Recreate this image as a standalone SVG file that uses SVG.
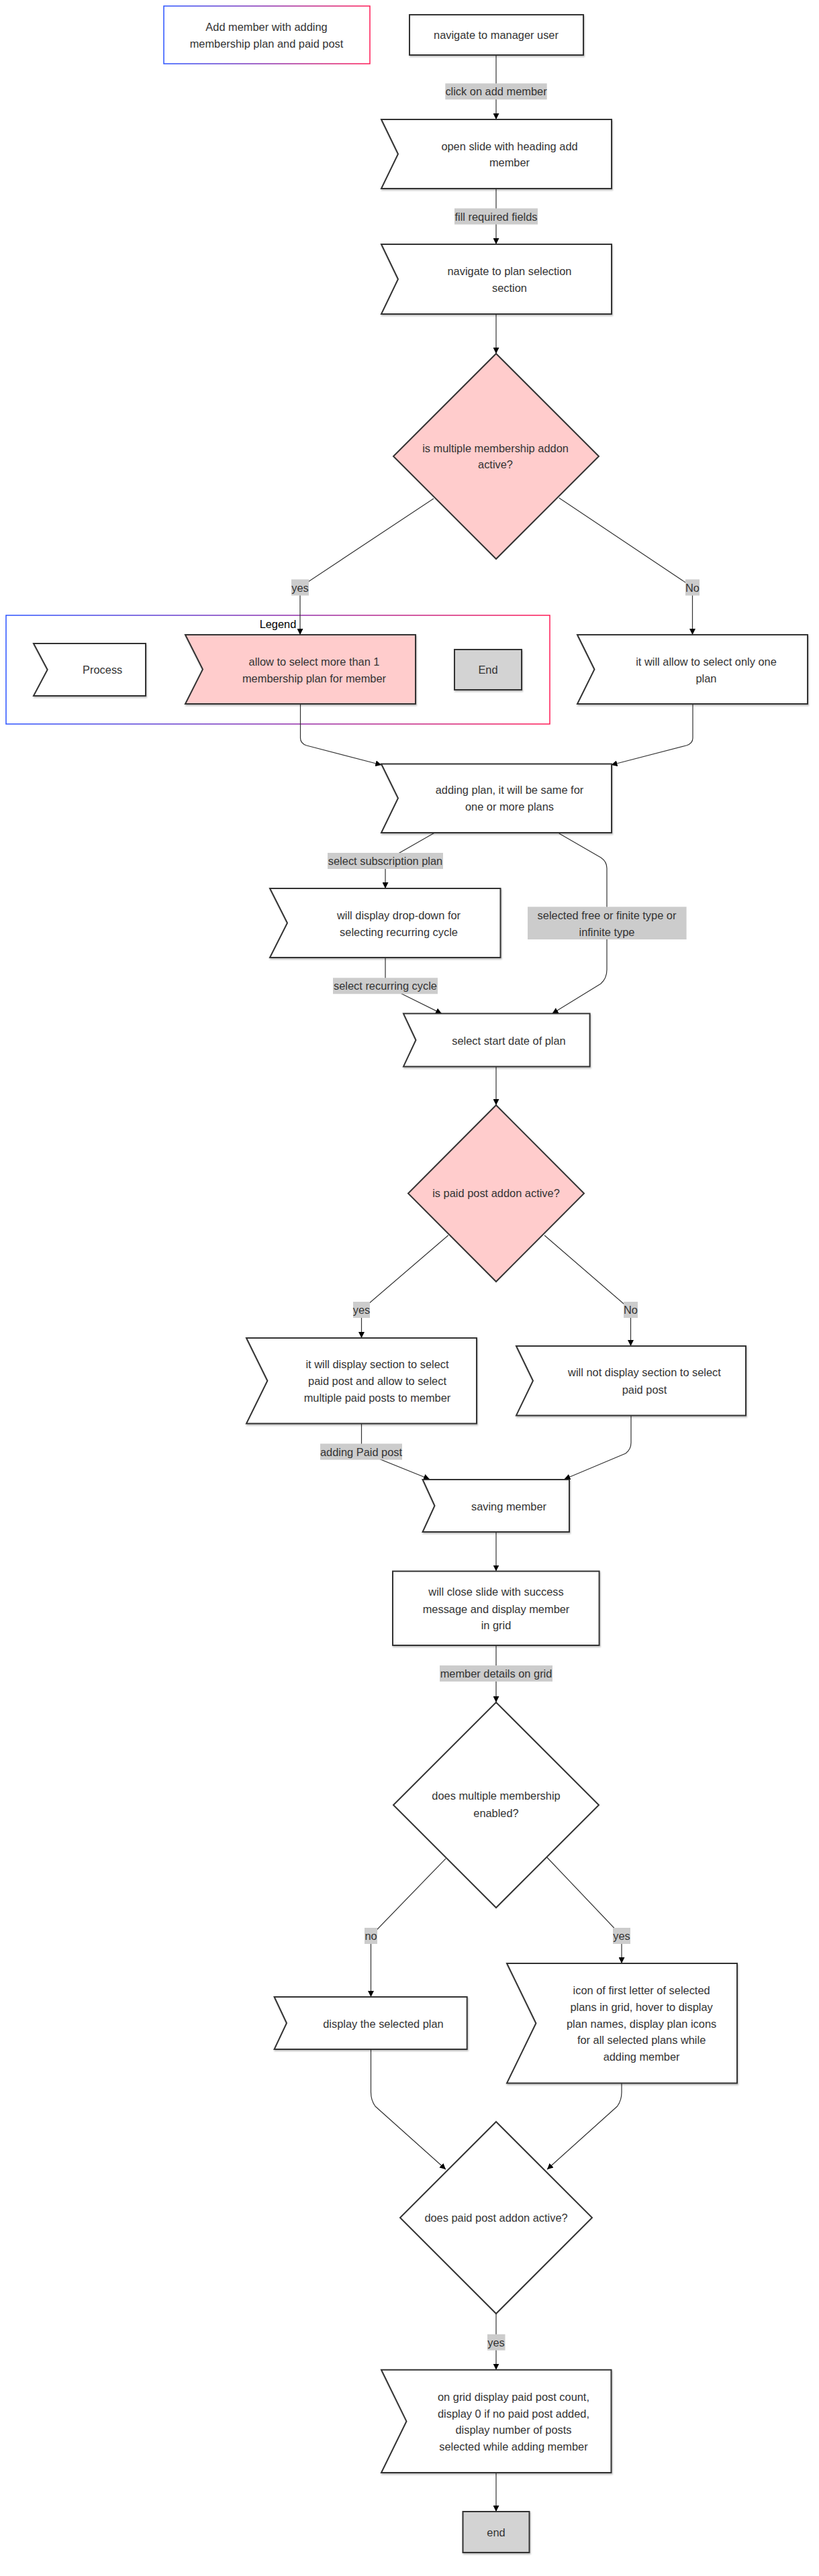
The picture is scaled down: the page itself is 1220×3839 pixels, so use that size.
<svg xmlns="http://www.w3.org/2000/svg" width="1220" height="3839" viewBox="0 0 1220 3839">
<defs>
<linearGradient id="grad" x1="0" y1="0" x2="1" y2="0">
<stop offset="0" stop-color="#2a52ff"/>
<stop offset="0.5" stop-color="#8a2fb0"/>
<stop offset="1" stop-color="#ff1a55"/>
</linearGradient>
<filter id="sh" x="-10%" y="-10%" width="130%" height="130%">
<feDropShadow dx="1" dy="2" stdDeviation="1.2" flood-color="#000" flood-opacity="0.25"/>
</filter>
<marker id="arr" viewBox="0 0 10 10" refX="10" refY="5" markerUnits="userSpaceOnUse" markerWidth="9" markerHeight="9" orient="auto">
<path d="M0,0 L10,5 L0,10 z" fill="#000"/>
</marker>
</defs>
<style>
text{font-family:"Liberation Sans",Arial,sans-serif;font-size:16.4px;fill:#333;text-anchor:middle;dominant-baseline:central}
.node{fill:#fff;stroke:#333;stroke-width:2;filter:url(#sh)}
.dia{fill:#fff;stroke:#333;stroke-width:2}
.frame{fill:#fff;stroke:url(#grad);stroke-width:1.5}
.edge{fill:none;stroke:#333;stroke-width:1.2;marker-end:url(#arr)}
.lbl{fill:#cccccc}
.black{fill:#000}
path.pink{fill:#ffcccc}
rect.grey{fill:#d3d3d3}
</style>
<rect width="1220" height="3839" fill="#fff"/>

<g id="legend">
<rect class="frame" x="9" y="917" width="810" height="162"/>
<text class="black" x="414" y="930">Legend</text>
</g>

<g id="title">
<rect class="frame" x="244" y="9" width="307" height="86"/>
<text x="397" y="40">Add member with adding</text>
<text x="397" y="65">membership plan and paid post</text>
</g>

<g id="connectors">
<path class="edge" d="M739,82 L739,178"/>
<path class="edge" d="M739,281 L739,364"/>
<path class="edge" d="M739,468 L739,527"/>
<path class="edge" d="M646,743 L447,875 L447,946"/>
<path class="edge" d="M832.7,742 L1031.5,875 L1031.5,946"/>
<path class="edge" d="M447.5,1049 V1100 Q447.5,1108 456.7,1111 L568.3,1140"/>
<path class="edge" d="M1032,1049 V1100 Q1032,1108 1022.5,1111 L910.5,1140"/>
<path class="edge" d="M647.5,1241 L574,1283 L574,1324"/>
<path class="edge" d="M832.7,1242 L895,1278 Q904,1284 904,1294 V1445 Q904,1458 895,1466 L822.6,1510.6"/>
<path class="edge" d="M574,1427 L574,1469 L658,1510.6"/>
<path class="edge" d="M739,1589.4 L739,1647"/>
<path class="edge" d="M667.7,1841 L538.5,1952 L538.5,1994"/>
<path class="edge" d="M811,1841 L939.5,1952 L939.5,2006"/>
<path class="edge" d="M538.5,2121.6 V2163.5 L640,2204.5"/>
<path class="edge" d="M940,2109.4 V2150 Q940,2160 932,2166 L840.5,2204.5"/>
<path class="edge" d="M739,2283 L739,2341.6"/>
<path class="edge" d="M739,2452 L739,2537"/>
<path class="edge" d="M664,2769.8 L552.5,2885 L552.5,2976"/>
<path class="edge" d="M814.8,2768 L926,2885 L926,2926"/>
<path class="edge" d="M552.5,3054 V3118 Q552.5,3130 559,3139 L664,3233"/>
<path class="edge" d="M926,3104.5 V3118 Q926,3130 919.5,3139 L815,3233"/>
<path class="edge" d="M739,3448 L739,3531.8"/>
<path class="edge" d="M739,3685 L739,3743"/>

<rect class="lbl" x="663.3" y="124.3" width="151.4" height="24"/>
<text x="739" y="136.3">click on add member</text>
<rect class="lbl" x="677" y="310.5" width="124" height="24"/>
<text x="739" y="322.5">fill required fields</text>
<rect class="lbl" x="434" y="863.5" width="26" height="24"/>
<text x="447" y="875.5">yes</text>
<rect class="lbl" x="1021" y="863.5" width="21" height="24"/>
<text x="1031.5" y="875.5">No</text>
<rect class="lbl" x="488" y="1271" width="172" height="24"/>
<text x="574" y="1283">select subscription plan</text>
<rect class="lbl" x="786" y="1351.4" width="236.6" height="48.6"/>
<text x="904" y="1363.7">selected free or finite type or</text>
<text x="904" y="1388.6">infinite type</text>
<rect class="lbl" x="496" y="1457.3" width="156" height="24"/>
<text x="574" y="1469.3">select recurring cycle</text>
<rect class="lbl" x="526" y="1940" width="25" height="24"/>
<text x="538.5" y="1952">yes</text>
<rect class="lbl" x="929" y="1940" width="21" height="24"/>
<text x="939.5" y="1952">No</text>
<rect class="lbl" x="477" y="2151.5" width="122" height="24"/>
<text x="538" y="2163.5">adding Paid post</text>
<rect class="lbl" x="655" y="2482" width="168" height="24"/>
<text x="739" y="2494">member details on grid</text>
<rect class="lbl" x="543" y="2873" width="19" height="24"/>
<text x="552.5" y="2885">no</text>
<rect class="lbl" x="913" y="2873" width="26" height="24"/>
<text x="926" y="2885">yes</text>
<rect class="lbl" x="726" y="3478.7" width="26.5" height="24"/>
<text x="739" y="3490.7">yes</text>
</g>

<g id="n1">
<rect class="node" x="610" y="22" width="259" height="60"/>
<text x="739" y="52">navigate to manager user</text>
</g>
<g id="n2">
<path class="node" d="M568,178 H911 V281 H568 L593,229.5 Z"/>
<text x="759" y="217.5">open slide with heading add</text>
<text x="759" y="241.5">member</text>
</g>
<g id="n3">
<path class="node" d="M568,364 H911 V468 H568 L593,416 Z"/>
<text x="759" y="404">navigate to plan selection</text>
<text x="759" y="428.6">section</text>
</g>
<g id="d1">
<path class="dia pink" d="M739,527 L892,680 L739,833 L586,680 Z"/>
<text x="738" y="668">is multiple membership addon</text>
<text x="738" y="692">active?</text>
</g>
<g id="legend-process">
<path class="node" d="M50,959 H217 V1037 H50 L70.7,998 Z"/>
<text x="152.7" y="998">Process</text>
</g>
<g id="n4">
<path class="node pink" d="M276,946 H619 V1049 H276 L302,997.5 Z"/>
<text x="468" y="986">allow to select more than 1</text>
<text x="468" y="1010.6">membership plan for member</text>
</g>
<g id="legend-end">
<rect class="node grey" x="677" y="968" width="100" height="60"/>
<text x="727" y="998">End</text>
</g>
<g id="n5">
<path class="node" d="M860,946 H1203 V1049 H860 L885.5,997.5 Z"/>
<text x="1052" y="986">it will allow to select only one</text>
<text x="1052" y="1010.6">plan</text>
</g>
<g id="n6">
<path class="node" d="M568,1138.5 H911 V1241 H568 L593,1189.5 Z"/>
<text x="759" y="1176.5">adding plan, it will be same for</text>
<text x="759" y="1201.5">one or more plans</text>
</g>
<g id="n7">
<path class="node" d="M402,1324 H745.5 V1427 H402 L428,1375.5 Z"/>
<text x="594" y="1363.7">will display drop-down for</text>
<text x="594" y="1388.6">selecting recurring cycle</text>
</g>
<g id="n8">
<path class="node" d="M601,1510.6 H878.6 V1589.4 H601 L619.5,1550 Z"/>
<text x="758" y="1550.6">select start date of plan</text>
</g>
<g id="d2">
<path class="dia pink" d="M739,1647 L870,1778.5 L739,1910 L608,1778.5 Z"/>
<text x="739" y="1778">is paid post addon active?</text>
</g>
<g id="n9">
<path class="node" d="M367,1994 H710 V2121.6 H367 L398.4,2057.8 Z"/>
<text x="562" y="2032.6">it will display section to select</text>
<text x="562" y="2057.6">paid post and allow to select</text>
<text x="562" y="2082.5">multiple paid posts to member</text>
</g>
<g id="n10">
<path class="node" d="M769,2006 H1111 V2109.4 H769 L794,2057.7 Z"/>
<text x="960" y="2045">will not display section to select</text>
<text x="960" y="2070.6">paid post</text>
</g>
<g id="n11">
<path class="node" d="M629.6,2205 H848 V2283 H629.6 L647.5,2244 Z"/>
<text x="758" y="2245">saving member</text>
</g>
<g id="n12">
<rect class="node" x="585" y="2341.6" width="307.6" height="110.4"/>
<text x="739" y="2372">will close slide with success</text>
<text x="739" y="2397.6">message and display member</text>
<text x="739" y="2421.6">in grid</text>
</g>
<g id="d3">
<path class="dia" d="M739,2537 L892,2690 L739,2843 L586,2690 Z"/>
<text x="739" y="2676">does multiple membership</text>
<text x="739" y="2701.6">enabled?</text>
</g>
<g id="n13">
<path class="node" d="M408.6,2976 H695.7 V3054 H408.6 L427,3015 Z"/>
<text x="571" y="3015.5">display the selected plan</text>
</g>
<g id="n14">
<path class="node" d="M755,2926 H1098 V3104.5 H755 L798.4,3015.3 Z"/>
<text x="955.6" y="2965.7">icon of first letter of selected</text>
<text x="955.6" y="2990.6">plans in grid, hover to display</text>
<text x="955.6" y="3015.5">plan names, display plan icons</text>
<text x="955.6" y="3040.4">for all selected plans while</text>
<text x="955.6" y="3065">adding member</text>
</g>
<g id="d4">
<path class="dia" d="M739,3162 L882,3305 L739,3448 L596,3305 Z"/>
<text x="739" y="3305">does paid post addon active?</text>
</g>
<g id="n15">
<path class="node" d="M568,3531.8 H910.5 V3685 H568 L605.5,3608.4 Z"/>
<text x="765" y="3571.8">on grid display paid post count,</text>
<text x="765" y="3597">display 0 if no paid post added,</text>
<text x="765" y="3621.4">display number of posts</text>
<text x="765" y="3645.7">selected while adding member</text>
</g>
<g id="n16">
<rect class="node grey" x="689.5" y="3743" width="99" height="61"/>
<text x="739" y="3773.5">end</text>
</g>
</svg>
